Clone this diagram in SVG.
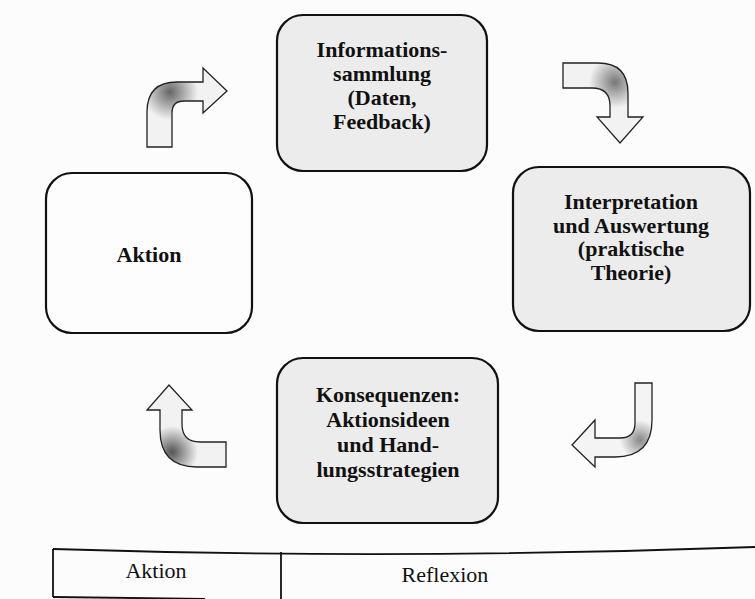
<svg xmlns="http://www.w3.org/2000/svg" width="755" height="599" viewBox="0 0 755 599">
<style>
.box{stroke:#111;stroke-width:2.2}
.g{fill:#ececec}
.w{fill:#fdfdfd}
.t{font-weight:bold;font-size:22px;fill:#111;text-anchor:middle}
.tt{font-size:22px;fill:#111;text-anchor:middle}
.arr{stroke:#222;stroke-width:1.3;stroke-linejoin:miter}
.ln{stroke:#111;stroke-width:1.8;fill:none}
</style>
<defs>
<radialGradient id="g1" gradientUnits="userSpaceOnUse" cx="170" cy="92" r="28"><stop offset="0" stop-color="#666"/><stop offset="1" stop-color="#f2f2f2"/></radialGradient>
<radialGradient id="g2" gradientUnits="userSpaceOnUse" cx="615" cy="82" r="26"><stop offset="0" stop-color="#777"/><stop offset="1" stop-color="#f2f2f2"/></radialGradient>
<radialGradient id="g3" gradientUnits="userSpaceOnUse" cx="640" cy="440" r="20"><stop offset="0" stop-color="#888"/><stop offset="1" stop-color="#f4f4f4"/></radialGradient>
<radialGradient id="g4" gradientUnits="userSpaceOnUse" cx="172" cy="452" r="26"><stop offset="0" stop-color="#555"/><stop offset="1" stop-color="#f2f2f2"/></radialGradient>
</defs>
<rect width="755" height="599" fill="#fcfcfc"/>

<g font-family="Liberation Serif, DejaVu Serif, serif">
<g id="informationssammlung">
<rect class="box g" x="277" y="15" width="210" height="156" rx="26"/>
<text class="t" x="382" y="57">Informations-</text>
<text class="t" x="382" y="81">sammlung</text>
<text class="t" x="382" y="105">(Daten,</text>
<text class="t" x="382" y="129">Feedback)</text>
</g>

<g id="interpretation">
<rect class="box g" x="513" y="167" width="237" height="164" rx="26"/>
<text class="t" x="631" y="209">Interpretation</text>
<text class="t" x="631" y="233">und Auswertung</text>
<text class="t" x="631" y="256">(praktische</text>
<text class="t" x="631" y="280">Theorie)</text>
</g>

<g id="konsequenzen">
<rect class="box g" x="277" y="358" width="221" height="165" rx="26"/>
<text class="t" x="388" y="402">Konsequenzen:</text>
<text class="t" x="388" y="427">Aktionsideen</text>
<text class="t" x="388" y="452">und Hand-</text>
<text class="t" x="388" y="477">lungsstrategien</text>
</g>

<g id="aktion">
<rect class="box w" x="46" y="173" width="206" height="160" rx="26"/>
<text class="t" x="149" y="262">Aktion</text>
</g>

<g id="connectors">
<path class="arr" fill="url(#g1)" d="M147,147 L147,112 Q147,82 177,82 L203,82 L203,68 L227,91 L203,113 L203,101 L184,101 Q172,101 172,113 L172,147 Z"/>
<path class="arr" fill="url(#g2)" d="M563,63 L598,63 Q628,63 628,93 L628,117 L643,117 L620,143 L597,117 L610,117 L610,106 Q610,88 592,88 L563,88 Z"/>
<path class="arr" fill="url(#g3)" d="M635,383 L652,383 L652,420 Q652,457 615,457 L595,457 L595,467 L572,445 L595,420 L595,438 L620,438 Q635,438 635,423 Z"/>
<path class="arr" fill="url(#g4)" d="M226,442 L200,442 Q182,442 182,424 L182,410 L192,410 L169,385 L147,410 L160,410 L160,430 Q160,467 197,467 L226,467 Z"/>
</g>

<g id="table">
<path class="ln" d="M53,549 Q400,560 755,547"/>
<path class="ln" d="M53,549 L53,597"/>
<path class="ln" d="M281,552 L281,599"/>
<path class="ln" d="M53,597 L205,599"/>
<text class="tt" x="156" y="578">Aktion</text>
<text class="tt" x="445" y="582">Reflexion</text>
</g>
</g>
</svg>
